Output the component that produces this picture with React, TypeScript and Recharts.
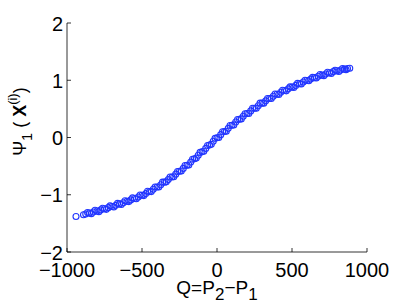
import { ScatterChart, Scatter, XAxis, YAxis } from "recharts";

// centre of the point cloud, read every 25 units of Q
const qCentre = [
  -940, -890, -875, -850, -825, -800, -775, -750, -725, -700, -675, -650, -625, -600, -575, -550, -525, -500,
  -475, -450, -425, -400, -375, -350, -325, -300, -275, -250, -225, -200, -175, -150, -125, -100, -75, -50, -25,
  0, 25, 50, 75, 100, 125, 150, 175, 200, 225, 250, 275, 300, 325, 350, 375, 400, 425, 450, 475, 500, 525, 550,
  575, 600, 625, 650, 675, 700, 725, 750, 775, 800, 825, 850, 870, 885,
];
const psiCentre = [
  -1.38, -1.35, -1.335, -1.32, -1.3, -1.285, -1.265, -1.245, -1.225, -1.205, -1.185, -1.16, -1.14, -1.115, -1.09,
  -1.065, -1.04, -1.01, -0.98, -0.945, -0.905, -0.865, -0.825, -0.78, -0.735, -0.69, -0.64, -0.59, -0.54, -0.485,
  -0.43, -0.37, -0.31, -0.25, -0.19, -0.13, -0.065, -0.005, 0.05, 0.105, 0.16, 0.215, 0.27, 0.32, 0.37, 0.42, 0.465,
  0.51, 0.555, 0.6, 0.64, 0.68, 0.72, 0.755, 0.79, 0.82, 0.85, 0.88, 0.91, 0.94, 0.97, 0.995, 1.02, 1.045, 1.07,
  1.09, 1.11, 1.13, 1.15, 1.165, 1.18, 1.195, 1.205, 1.21,
];

// further points of the cloud, along its upper and lower edges
const qEdge = [
  -863, -838, -813, -788, -763, -738, -713, -688, -663, -638, -613, -588, -563, -538, -513, -488, -463, -438, -413,
  -388, -363, -338, -313, -288, -263, -238, -213, -188, -163, -138, -113, -88, -63, -38, -13, 12, 37, 62, 87, 112,
  137, 162, 187, 212, 237, 262, 287, 312, 337, 362, 387, 412, 437, 462, 487, 512, 537, 562, 587, 612, 637, 662, 687,
  712, 737, 762, 787, 812, 837, 860,
];
const psiEdge = [
  -1.31, -1.33, -1.27, -1.295, -1.235, -1.255, -1.195, -1.215, -1.15, -1.17, -1.105, -1.12, -1.055, -1.07, -1.005,
  -1.015, -0.94, -0.945, -0.865, -0.865, -0.78, -0.775, -0.69, -0.685, -0.595, -0.585, -0.49, -0.48, -0.38, -0.36,
  -0.26, -0.24, -0.14, -0.12, -0.015, 0.0, 0.1, 0.11, 0.21, 0.22, 0.315, 0.325, 0.415, 0.42, 0.51, 0.51, 0.6, 0.6,
  0.68, 0.68, 0.76, 0.75, 0.825, 0.815, 0.885, 0.875, 0.945, 0.935, 1.0, 0.99, 1.05, 1.04, 1.1, 1.08, 1.14, 1.12,
  1.175, 1.155, 1.205, 1.185,
];

const xTicks = [-1000, -500, 0, 500, 1000];
const yTicks = [-2, -1, 0, 1, 2];

const data = [
  ...qCentre.map((q, i) => ({ q, psi: psiCentre[i] })),
  ...qEdge.map((q, i) => ({ q, psi: psiEdge[i] })),
];

const FONT = "'Liberation Sans', Arial, Helvetica, sans-serif";
const TICK_LEN = 4;
const fmt = (v: number) => String(v).replace("-", "\u2212");

const BottomTick = ({ x, y, payload }: any) => (
  <g>
    <line x1={x} y1={y} x2={x} y2={y - TICK_LEN} stroke="#000" strokeWidth={0.8} />
    <text x={x} y={y + 25} textAnchor="middle" fontSize={20} fontFamily={FONT} fill="#000">
      {fmt(payload.value)}
    </text>
  </g>
);

const LeftTick = ({ x, y, payload }: any) => (
  <g>
    <line x1={x} y1={y} x2={x + TICK_LEN} y2={y} stroke="#000" strokeWidth={0.8} />
    <text x={x - 4} y={y + 7.5} textAnchor="end" fontSize={20} fontFamily={FONT} fill="#000">
      {fmt(payload.value)}
    </text>
  </g>
);

const TopTick = ({ x, y }: any) => (
  <line x1={x} y1={y} x2={x} y2={y + TICK_LEN} stroke="#000" strokeWidth={0.8} />
);

const RightTick = ({ x, y }: any) => (
  <line x1={x} y1={y} x2={x - TICK_LEN} y2={y} stroke="#000" strokeWidth={0.8} />
);

const XLabel = ({ viewBox }: any) => (
  <text x={viewBox.x + viewBox.width / 2} y={viewBox.y + 42} textAnchor="middle" fontSize={19} fontFamily={FONT} fill="#000">
    Q=P
    <tspan dy={6} fontSize={17}>2</tspan>
    <tspan dy={-6}>{"\u2212"}P</tspan>
    <tspan dy={6} fontSize={17}>1</tspan>
  </text>
);

const YLabel = ({ viewBox }: any) => {
  const cx = viewBox.x + 26;
  const cy = viewBox.y + viewBox.height / 2 - 16;
  return (
    <text x={cx} y={cy} transform={`rotate(-90, ${cx}, ${cy})`} textAnchor="middle" fontSize={18} fontFamily={FONT} fill="#000">
      {"\u03A8"}
      <tspan dy={6} fontSize={14}>1</tspan>
      <tspan dy={-6}>{" ("}</tspan>
      <tspan fontWeight="bold">{" X"}</tspan>
      <tspan dy={-9} fontSize={13}>(i)</tspan>
      <tspan dy={9}>)</tspan>
    </text>
  );
};

const Ring = ({ cx, cy }: any) => (
  <circle cx={cx} cy={cy} r={3} fill="none" stroke="#2236ff" strokeWidth={1.1} />
);

export default function App() {
  return (
    <div style={{ position: "absolute", left: 0, top: 0, background: "#fff" }}>
      <ScatterChart width={405} height={305} margin={{ top: 23, right: 38, left: 0, bottom: 0 }}>
        <XAxis
          xAxisId="bottom"
          dataKey="q"
          type="number"
          domain={[-1000, 1000]}
          ticks={xTicks}
          interval={0}
          height={53}
          tickSize={0}
          tickMargin={0}
          tick={<BottomTick />}
          axisLine={{ stroke: "#000", strokeWidth: 0.8 }}
          label={{ content: <XLabel /> }}
        />
        <XAxis
          xAxisId="top"
          orientation="top"
          dataKey="q"
          type="number"
          domain={[-1000, 1000]}
          ticks={xTicks}
          interval={0}
          height={0}
          tickSize={0}
          tickMargin={0}
          tick={<TopTick />}
          axisLine={{ stroke: "#000", strokeWidth: 0.8 }}
        />
        <YAxis
          yAxisId="left"
          dataKey="psi"
          type="number"
          domain={[-2, 2]}
          ticks={yTicks}
          interval={0}
          width={67}
          tickSize={0}
          tickMargin={0}
          tick={<LeftTick />}
          axisLine={{ stroke: "#000", strokeWidth: 0.8 }}
          label={{ content: <YLabel /> }}
        />
        <YAxis
          yAxisId="right"
          orientation="right"
          dataKey="psi"
          type="number"
          domain={[-2, 2]}
          ticks={yTicks}
          interval={0}
          width={0}
          tickSize={0}
          tickMargin={0}
          tick={<RightTick />}
          axisLine={{ stroke: "#000", strokeWidth: 0.8 }}
        />
        <Scatter data={data} xAxisId="bottom" yAxisId="left" shape={<Ring />} isAnimationActive={false} />
        <Scatter data={data} xAxisId="top" yAxisId="right" shape={() => null} isAnimationActive={false} />
      </ScatterChart>
    </div>
  );
}
